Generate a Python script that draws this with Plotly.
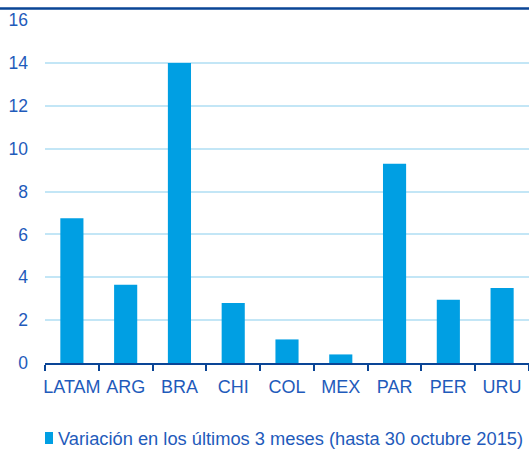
import plotly.graph_objects as go

# Countries / regions and their variation (%) over the last 3 months
categories = ["LATAM", "ARG", "BRA", "CHI", "COL", "MEX", "PAR", "PER", "URU"]
values = [6.75, 3.65, 14.0, 2.8, 1.1, 0.4, 9.3, 2.95, 3.5]
series_name = "Variación en los últimos 3 meses (hasta 30 octubre 2015)"
y_ticks = [0, 2, 4, 6, 8, 10, 12, 14, 16]

BAR = "#009FE3"
TEXT = "#1F5BBB"
DARK = "#0A4596"
GRID = "#C3E6F6"
FONT = "Liberation Sans, Arial, sans-serif"

fig = go.Figure(
    go.Bar(
        x=categories,
        y=values,
        name=series_name,
        marker=dict(color=BAR, line=dict(width=0)),
        showlegend=False,
    )
)

L, R, T, B = 45, 0, 20, 87
W, H = 529, 450
plot_w = W - L - R
plot_h = H - T - B


def px_x(px):
    return (px - L) / plot_w


def px_y(py):
    return (H - B - py) / plot_h


fig.update_layout(
    width=W,
    height=H,
    margin=dict(l=L, r=R, t=T, b=B, pad=0),
    paper_bgcolor="white",
    plot_bgcolor="white",
    bargap=0.57,
    font=dict(family=FONT, color=TEXT, size=16),
    showlegend=False,
    xaxis=dict(
        showline=True,
        linecolor=DARK,
        linewidth=2,
        ticks="outside",
        tickson="boundaries",
        ticklen=6,
        tickwidth=2,
        tickcolor=DARK,
        showgrid=False,
        tickangle=0,
        tickfont=dict(family=FONT, color=TEXT, size=18),
        ticklabelstandoff=6,
    ),
    yaxis=dict(
        range=[0, 16],
        tickvals=y_ticks,
        showgrid=True,
        gridcolor=GRID,
        gridwidth=1.5,
        zeroline=False,
        showline=False,
        ticks="",
        tickfont=dict(family=FONT, color=TEXT, size=17.5),
        ticklabelstandoff=16,
    ),
    shapes=[
        # dark rule across the top of the figure
        dict(
            type="line",
            xref="paper",
            yref="paper",
            x0=px_x(0),
            x1=px_x(W + 2),
            y0=px_y(8.5),
            y1=px_y(8.5),
            line=dict(color=DARK, width=2.5),
        ),
        # series key swatch
        dict(
            type="rect",
            xref="paper",
            yref="paper",
            x0=px_x(45),
            x1=px_x(53),
            y0=px_y(444),
            y1=px_y(432),
            fillcolor=BAR,
            line=dict(width=0),
        ),
    ],
    annotations=[
        dict(
            text=series_name,
            xref="paper",
            yref="paper",
            x=px_x(56),
            y=px_y(438),
            xanchor="left",
            yanchor="middle",
            showarrow=False,
            font=dict(family=FONT, color=TEXT, size=18.3),
        )
    ],
)

fig.write_html("out.html")
